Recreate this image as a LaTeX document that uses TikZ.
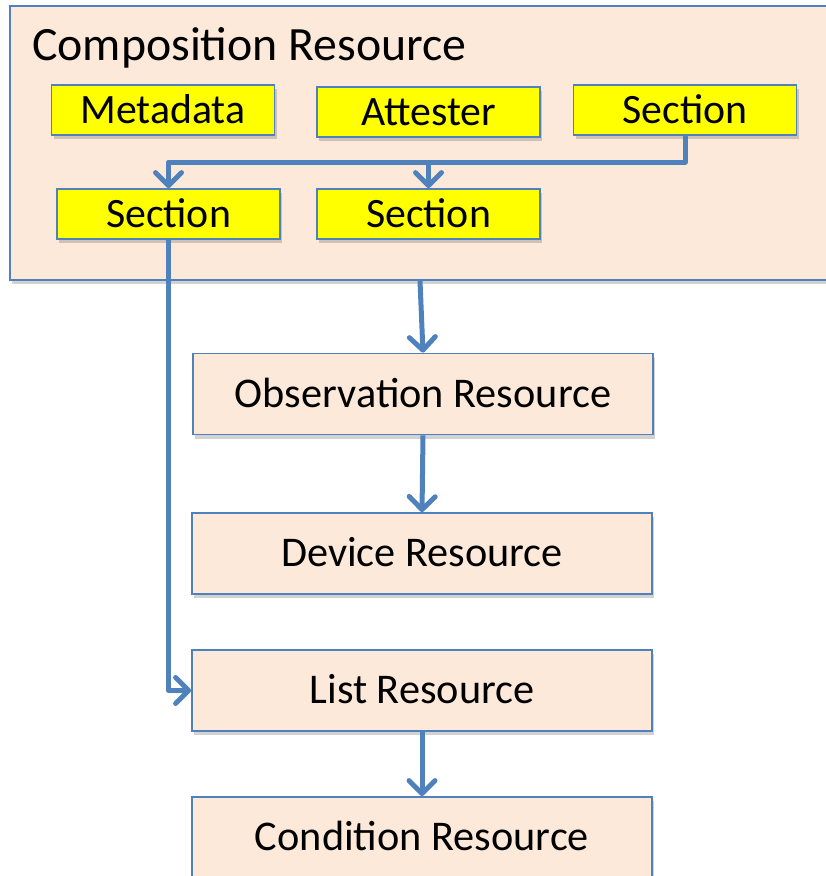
\documentclass[tikz,border=0pt]{standalone}
\usepackage{fontspec}
\setmainfont{Carlito}
\usetikzlibrary{arrows.meta,shadows}
\definecolor{peach}{RGB}{253,233,218}
\definecolor{bblue}{RGB}{79,129,189}
\definecolor{yel}{RGB}{255,255,0}
\tikzset{
  shad/.style={drop shadow={shadow xshift=2pt,shadow yshift=-4pt,opacity=0.25,fill=black!70}},
  resbox/.style={draw=bblue,line width=1.8pt,fill=peach,shad,minimum width=460pt,minimum height=81pt,
    inner sep=0pt,text height=26.8pt,text depth=0pt,font=\fontsize{42.3}{48}\selectfont},
  partbox/.style={draw=bblue,line width=1.8pt,fill=yel,shad,minimum width=223pt,minimum height=50pt,
    inner sep=0pt,text height=26.5pt,text depth=0pt,font=\fontsize{41.8}{48}\selectfont},
  arr/.style={draw=bblue,line width=5pt,line join=round,
    -{Straight Barb[length=13pt,width=26pt,line cap=round,line join=round]}},
  conn/.style={draw=bblue,line width=5pt,line join=round}
}
\begin{document}
\begin{tikzpicture}[x=1pt,y=-1pt]
\useasboundingbox (0,0) rectangle (826,876);
\clip (0,0) rectangle (826,876);
\node[draw=bblue,line width=1.8pt,fill=peach,shad,minimum width=840pt,minimum height=274pt,inner sep=0pt] (comp) at (430,143) {};
\node[anchor=base west,inner sep=0pt,font=\fontsize{47.8}{54}\selectfont] (title) at (32,60) {Composition Resource};
\node[partbox] (meta) at (163,110) {Metadata};
\node[partbox] (att) at (428.5,112) {Attester};
\node[partbox] (sec1) at (685,110) {Section};
\node[partbox] (sec2) at (168.5,214) {Section};
\node[partbox] (sec3) at (428.5,214) {Section};
\node[resbox] (obs) at (423,394) {Observation Resource};
\node[resbox] (dev) at (422,553.5) {Device Resource};
\node[resbox] (list) at (422,690.5) {List Resource};
\node[resbox] (cond) at (422,837.5) {Condition Resource};
\coordinate (h) at (0,162);
\draw[arr] (sec1.south) |- (sec2.north |- h) -- (sec2.north);
\draw[arr] (sec3.north |- h) -- (sec3.north);
\draw[arr] (sec2.south) |- (list.west);
\draw[arr] ([xshift=-3pt]obs.north |- comp.south) -- (obs.north);
\draw[arr] (obs.south) -- (dev.north);
\draw[arr] (list.south) -- (cond.north);
\end{tikzpicture}
\end{document}
